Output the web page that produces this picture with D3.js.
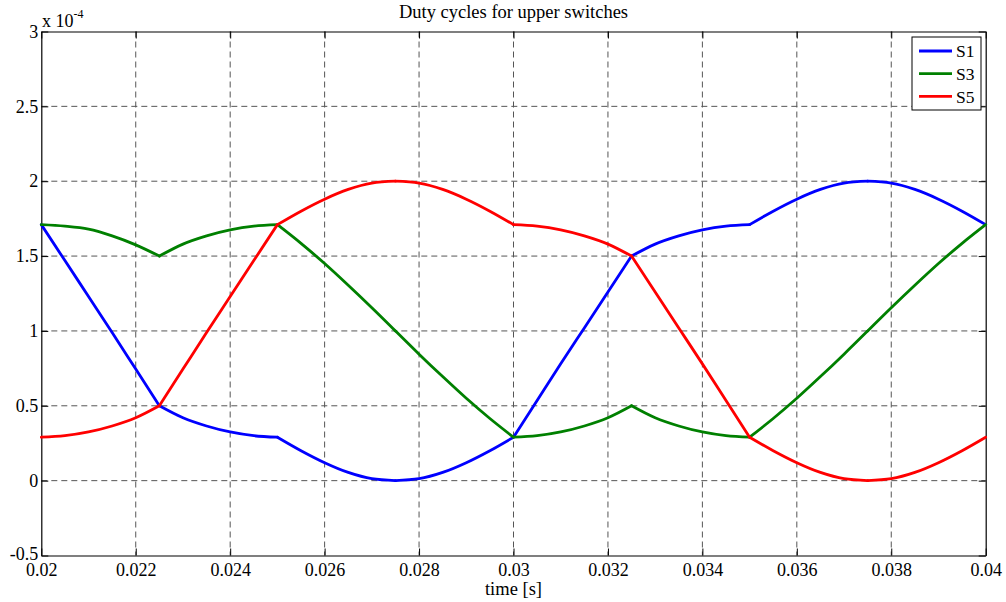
<!DOCTYPE html>
<html>
<head>
<meta charset="utf-8">
<script src="https://cdn.jsdelivr.net/npm/d3@7"></script>
<style>
  body { margin: 0; background: #fff; }
  svg text { font-family: "Liberation Serif", "Times New Roman", serif; fill: #000; }
</style>
</head>
<body>
<div id="chart"></div>
<script>
// time samples every 0.5 ms from 0.02 s to 0.04 s
const time = d3.range(41).map(i => +(0.02 + i * 0.0005).toFixed(4));

// duty cycles, units of 1e-4 s
const s1 = [1.71, 1.47, 1.23, 0.99, 0.745, 0.5,
            0.42, 0.365, 0.325, 0.30, 0.29,
            0.2, 0.12, 0.055, 0.013, 0,
            0.013, 0.055, 0.12, 0.2, 0.29,
            0.535, 0.78, 1.02, 1.26, 1.5,
            1.58, 1.635, 1.675, 1.70, 1.71,
            1.80, 1.88, 1.945, 1.987, 2,
            1.987, 1.945, 1.88, 1.80, 1.71];
const s3 = [1.71, 1.70, 1.68, 1.635, 1.575, 1.50,
            1.58, 1.635, 1.675, 1.70, 1.71,
            1.585, 1.45, 1.305, 1.155, 1.0,
            0.845, 0.695, 0.55, 0.415, 0.29,
            0.30, 0.325, 0.365, 0.42, 0.5,
            0.42, 0.365, 0.325, 0.30, 0.29,
            0.415, 0.55, 0.695, 0.845, 1.0,
            1.155, 1.305, 1.45, 1.585, 1.71];
const s5 = [0.29, 0.30, 0.325, 0.365, 0.42, 0.5,
            0.745, 0.99, 1.23, 1.47, 1.71,
            1.80, 1.88, 1.945, 1.987, 2,
            1.987, 1.945, 1.88, 1.80, 1.71,
            1.70, 1.675, 1.635, 1.58, 1.5,
            1.26, 1.02, 0.78, 0.535, 0.29,
            0.2, 0.12, 0.055, 0.013, 0,
            0.013, 0.055, 0.12, 0.2, 0.29];

// sample indices where the switching pattern changes (kinks in the curves)
const kinks = [0, 5, 10, 15, 20, 25, 30, 35, 40];

const seriesNames = ["S1", "S3", "S5"];
const seriesColors = ["#0000ff", "#008000", "#ff0000"];
const xTicks = [0.02, 0.022, 0.024, 0.026, 0.028, 0.03, 0.032, 0.034, 0.036, 0.038, 0.04];
const yTicks = [-0.5, 0, 0.5, 1, 1.5, 2, 2.5, 3];

const W = 1006, H = 602;
const margin = { top: 31.5, right: 20.3, bottom: 46.5, left: 41.3 };
const w = W - margin.left - margin.right;
const h = H - margin.top - margin.bottom;
const serif = '"Liberation Serif", "Times New Roman", serif';

const svg = d3.select("#chart").append("svg")
    .attr("width", W)
    .attr("height", H);

const g = svg.append("g")
    .attr("transform", `translate(${margin.left},${margin.top})`);

const x = d3.scaleLinear().domain([0.02, 0.04]).range([0, w]);
const y = d3.scaleLinear().domain([-0.5, 3]).range([h, 0]);

// grid
const grid = g.append("g").attr("class", "grid")
    .attr("stroke", "#555")
    .attr("stroke-width", 1)
    .attr("stroke-dasharray", "6,4");

grid.selectAll(".vx")
    .data(xTicks.slice(1, -1))
    .enter().append("line")
    .attr("x1", d => x(d)).attr("x2", d => x(d))
    .attr("y1", 0).attr("y2", h);

grid.selectAll(".hy")
    .data(yTicks.slice(1, -1))
    .enter().append("line")
    .attr("x1", 0).attr("x2", w)
    .attr("y1", d => y(d)).attr("y2", d => y(d));

// axes, MATLAB style: ticks pointing inward on all four sides
const fmt = d => String(d);
const tickLen = 7;

const xAxis = g.append("g")
    .attr("transform", `translate(0,${h})`)
    .call(d3.axisBottom(x).tickValues(xTicks).tickFormat(fmt).tickSizeInner(-tickLen).tickSizeOuter(0).tickPadding(8));
const xAxisTop = g.append("g")
    .call(d3.axisTop(x).tickValues(xTicks).tickFormat("").tickSizeInner(-tickLen).tickSizeOuter(0));
const yAxis = g.append("g")
    .call(d3.axisLeft(y).tickValues(yTicks).tickFormat(fmt).tickSizeInner(-tickLen).tickSizeOuter(0).tickPadding(3));
const yAxisRight = g.append("g")
    .attr("transform", `translate(${w},0)`)
    .call(d3.axisRight(y).tickValues(yTicks).tickFormat("").tickSizeInner(-tickLen).tickSizeOuter(0));

[xAxis, xAxisTop, yAxis, yAxisRight].forEach(a => {
    a.attr("font-family", serif).attr("font-size", 18);
    a.select(".domain").attr("stroke", "#000").attr("stroke-width", 1.2);
    a.selectAll(".tick line").attr("stroke", "#000").attr("stroke-width", 1);
    a.selectAll("text").attr("fill", "#000");
});
// bottom y label sits just above the first x label
yAxis.selectAll(".tick text").filter(d => d === -0.5).attr("dy", "0.2em");

// series lines, smooth between kinks, sharp at the kinks
const series = [s1, s3, s5];
const line = d3.line()
    .x(d => x(d[0]))
    .y(d => y(d[1]))
    .curve(d3.curveMonotoneX);

const pieces = [];
series.forEach((vals, si) => {
    for (let k = 0; k < kinks.length - 1; k++) {
        const pts = d3.range(kinks[k], kinks[k + 1] + 1).map(i => [time[i], vals[i]]);
        pieces.push({ si, pts });
    }
});

g.selectAll(".series")
    .data(pieces)
    .enter().append("path")
    .attr("class", "series")
    .attr("fill", "none")
    .attr("stroke", d => seriesColors[d.si])
    .attr("stroke-width", 2.8)
    .attr("stroke-linecap", "round")
    .attr("d", d => line(d.pts));

// title and labels
svg.append("text")
    .attr("x", margin.left + w / 2)
    .attr("y", 18)
    .attr("text-anchor", "middle")
    .style("font-size", "18.5px")
    .text("Duty cycles for upper switches");

svg.append("text")
    .attr("x", margin.left + w / 2)
    .attr("y", 595)
    .attr("text-anchor", "middle")
    .style("font-size", "18.5px")
    .text("time [s]");

const expo = svg.append("text")
    .attr("x", 42)
    .attr("y", 26.5)
    .style("font-size", "18px");
expo.append("tspan").text("x 10");
expo.append("tspan").attr("dy", -9).style("font-size", "12px").text("-4");

// legend
const legend = svg.append("g")
    .attr("transform", "translate(912,37)");
legend.append("rect")
    .attr("width", 69).attr("height", 73)
    .attr("fill", "#fff")
    .attr("stroke", "#000")
    .attr("stroke-width", 1);
const rows = legend.selectAll(".row")
    .data(seriesNames)
    .enter().append("g")
    .attr("transform", (d, i) => `translate(0,${14 + i * 22.7})`);
rows.append("line")
    .attr("x1", 7).attr("x2", 40)
    .attr("stroke", (d, i) => seriesColors[i])
    .attr("stroke-width", 2.8);
rows.append("text")
    .attr("x", 44)
    .attr("dy", "0.35em")
    .style("font-size", "17.5px")
    .text(d => d);
</script>
</body>
</html>
